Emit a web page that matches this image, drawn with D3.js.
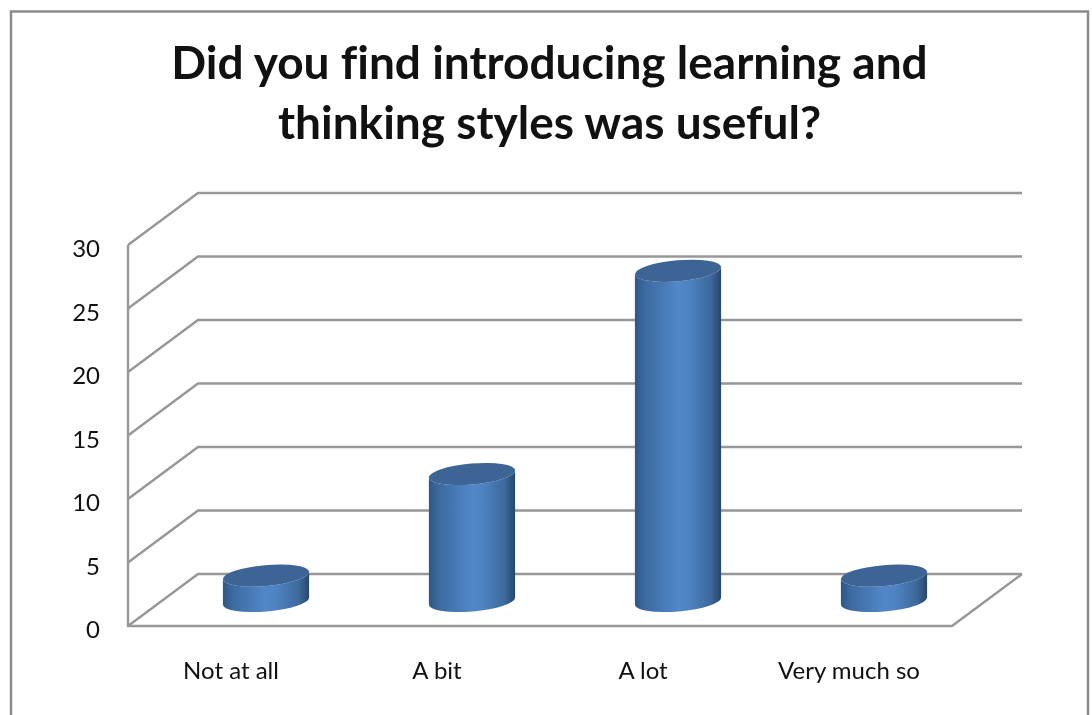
<!DOCTYPE html>
<html>
<head>
<meta charset="utf-8">
<style>
  html, body { margin: 0; padding: 0; background: #fff; }
  svg { display: block; filter: blur(0.45px); }
  text { font-family: Lato, "Open Sans", sans-serif; fill: #111; font-variant-ligatures: none; }
</style>
<script src="https://cdn.jsdelivr.net/npm/d3@7/dist/d3.min.js"></script>
</head>
<body>
<div id="chart"></div>
<script>
const categories = ['Not at all', 'A bit', 'A lot', 'Very much so'];
const values = [2, 10, 26, 2];
const yTicks = [0, 5, 10, 15, 20, 25, 30];
const titleLines = ['Did you find introducing learning and', 'thinking styles was useful?'];

const width = 1092, height = 715;
const plot = { left: 128, right: 952, top: 245, bottom: 626 };
const depth = { x: 70, y: -52 }; // offset from front plane to back wall
const lineColor = '#979797';

const svg = d3.select('#chart').append('svg')
    .attr('width', width)
    .attr('height', height);

// Gradient for cylinder sides
const grad = svg.append('defs').append('linearGradient')
    .attr('id', 'side')
    .attr('x1', 0).attr('x2', 1).attr('y1', 0).attr('y2', 0);
[[0, '#2f5786'], [0.12, '#3d6ba1'], [0.5, '#5287c8'], [0.62, '#4f83c2'], [0.88, '#3d699c'], [1, '#264769']]
    .forEach(([o, c]) => grad.append('stop').attr('offset', o).attr('stop-color', c));

// Outer frame (open at the bottom)
svg.append('path')
    .attr('d', `M11,${height + 5}V11.5H1088V${height + 5}`)
    .attr('fill', 'none')
    .attr('stroke', '#8c8c8c')
    .attr('stroke-width', 2.5);

// Scales
const xScale = d3.scaleBand().domain(categories).range([plot.left, plot.right]);
const yScale = d3.scaleLinear().domain([0, 30]).range([plot.bottom, plot.top]);

// Gridlines on the back wall plus the side wall diagonals
const grid = svg.append('g')
    .attr('fill', 'none')
    .attr('stroke', lineColor)
    .attr('stroke-width', 2.4);

yTicks.forEach(t => {
    const y = yScale(t);
    grid.append('path')
        .attr('d', `M${plot.left},${y}L${plot.left + depth.x},${y + depth.y}H${plot.right + depth.x}`);
});

// Front floor edge and right floor edge
grid.append('path')
    .attr('d', `M${plot.left},${plot.top}V${plot.bottom}H${plot.right}L${plot.right + depth.x},${plot.bottom + depth.y}`);

// Axes
const yAxisG = svg.append('g')
    .attr('transform', `translate(${plot.left},4)`)
    .call(d3.axisLeft(yScale).tickValues(yTicks).tickSize(0).tickPadding(28));

const xAxisG = svg.append('g')
    .attr('transform', `translate(0,${plot.bottom})`)
    .call(d3.axisBottom(xScale).tickSize(0).tickPadding(36));

yAxisG.select('.domain').remove();
xAxisG.select('.domain').remove();
svg.selectAll('.tick text')
    .style('font-family', 'Lato, "Open Sans", sans-serif')
    .style('font-size', '24px')
    .style('fill', '#111');

// Cylinders sit midway through the floor depth
const rx = xScale.bandwidth() * 0.21;
const ry = 10.5;
const tilt = -5;
const cosT = Math.cos(tilt * Math.PI / 180), sinT = Math.sin(tilt * Math.PI / 180);

const bars = svg.append('g').selectAll('g')
    .data(categories.map((c, i) => ({ c, v: values[i] })))
    .join('g')
    .attr('transform', d => `translate(${xScale(d.c) + xScale.bandwidth() / 2 + depth.x / 2},${depth.y / 2 + 1})`);

// side: from the left end of the top ellipse, down, around the bottom ellipse, back up
bars.append('path')
    .attr('fill', 'url(#side)')
    .attr('d', d => {
        const yt = yScale(d.v), yb = yScale(0);
        const dx = rx * cosT, dy = rx * sinT;
        return `M${-dx},${yt - dy}L${-dx},${yb - dy}` +
            `A${rx},${ry} ${tilt} 0 0 ${dx},${yb + dy}` +
            `L${dx},${yt + dy}A${rx},${ry} ${tilt} 0 1 ${-dx},${yt - dy}Z`;
    });

// top cap
bars.append('ellipse')
    .attr('fill', '#3c6595')
    .attr('rx', rx)
    .attr('ry', ry)
    .attr('transform', d => `translate(0,${yScale(d.v)}) rotate(${tilt})`);

// Title
svg.append('g').selectAll('text')
    .data(titleLines)
    .join('text')
    .attr('x', 549.5)
    .attr('y', (d, i) => 79 + i * 60)
    .attr('text-anchor', 'middle')
    .style('font-size', '46px')
    .style('font-weight', 700)
    .text(d => d);
</script>
</body>
</html>
